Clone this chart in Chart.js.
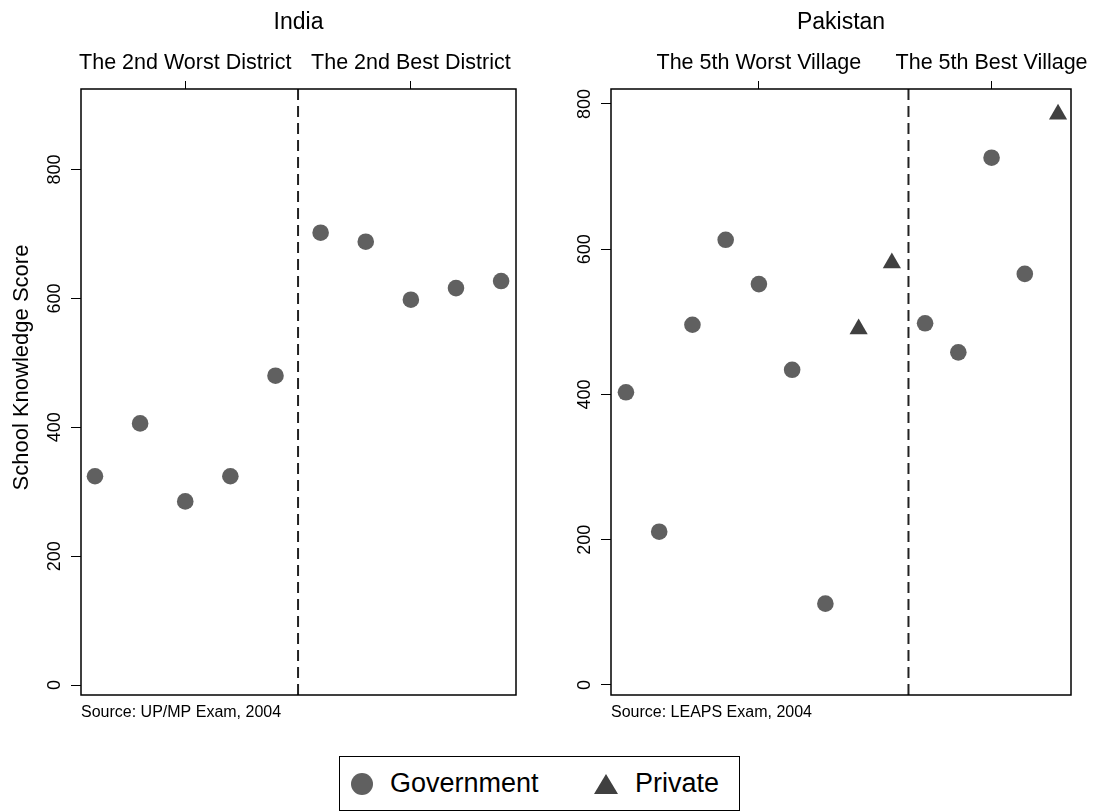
<!DOCTYPE html>
<html>
<head>
<meta charset="utf-8">
<title>School Knowledge Score</title>
<style>
  body { margin: 0; background: #fff; font-family: "Liberation Sans", Arial, sans-serif; }
  #page { position: relative; width: 1095px; height: 812px; overflow: hidden; }
  canvas { position: absolute; top: 0; }
  #india { left: 0; }
  #pakistan { left: 560px; }
  #legend { position: absolute; left: 339px; top: 756px; width: 401px; height: 55px;
            border: 1px solid #000; box-sizing: border-box; }
  #legend span { position: absolute; }
  .dot { left: 11px; top: 16px; width: 22px; height: 22px; border-radius: 50%; background: #606060; }
  .tri { left: 254px; top: 17px; width: 0; height: 0; border-left: 12px solid transparent;
         border-right: 12px solid transparent; border-bottom: 20px solid #404040; }
  .txt { font-size: 27px; color: #000; top: 10px; line-height: 32px; }
</style>
</head>
<body>
<div id="page">
  <canvas id="india" width="560" height="740"></canvas>
  <canvas id="pakistan" width="535" height="740"></canvas>
  <div id="legend">
    <span class="dot"></span><span class="txt" style="left:50px">Government</span>
    <span class="tri"></span><span class="txt" style="left:295px">Private</span>
  </div>
</div>

<script src="https://cdn.jsdelivr.net/npm/chart.js"></script>
<script>
// India - schools ordered within the 2nd worst / 2nd best district
const indiaGovX = [1, 2, 3, 4, 5, 6, 7, 8, 9, 10];
const indiaGovScore = [324, 406, 285, 324, 480, 702, 688, 598, 616, 627];
const indiaTopTicks = [3, 8];
const indiaTopLabels = ['The 2nd Worst District', 'The 2nd Best District'];
const indiaCutoff = 5.5;

// Pakistan - schools ordered within the 5th worst / 5th best village
const pakGovX = [1, 2, 3, 4, 5, 6, 7, 10, 11, 12, 13];
const pakGovScore = [403, 211, 496, 613, 552, 434, 112, 498, 458, 726, 566];
const pakPrivX = [8, 9, 14];
const pakPrivScore = [490, 581, 786];
const pakTopTicks = [5, 12];
const pakTopLabels = ['The 5th Worst Village', 'The 5th Best Village'];
const pakCutoff = 9.5;

const yTicks = [0, 200, 400, 600, 800];

Chart.defaults.font.family = "'Liberation Sans', Arial, sans-serif";
Chart.defaults.color = '#000';

// frame round the plot area + dashed line between the two groups
const framePlugin = {
  id: 'frame',
  beforeDatasetsDraw(chart, args, opts) {
    const a = chart.chartArea, ctx = chart.ctx;
    const px = chart.scales.x.getPixelForValue(opts.cutoff);
    ctx.save();
    ctx.strokeStyle = '#222';
    ctx.lineWidth = 2;
    ctx.setLineDash([11, 6]);
    ctx.beginPath();
    ctx.moveTo(px, a.top);
    ctx.lineTo(px, a.bottom + 3);
    ctx.stroke();
    ctx.restore();
  },
  afterDraw(chart) {
    const a = chart.chartArea, ctx = chart.ctx;
    ctx.save();
    ctx.strokeStyle = '#000';
    ctx.lineWidth = 1.5;
    ctx.strokeRect(a.left, a.top, a.right - a.left, a.bottom - a.top);
    ctx.restore();
  }
};

function points(xs, ys) {
  return xs.map((x, i) => ({ x: x, y: ys[i] }));
}

function makePanel(id, p) {
  var datasets = [{
    label: 'Government',
    data: points(p.govX, p.govY),
    pointStyle: 'circle',
    pointRadius: 8.3,
    backgroundColor: '#606060',
    borderWidth: 0
  }];
  if (p.privX) {
    datasets.push({
      label: 'Private',
      data: points(p.privX, p.privY),
      pointStyle: 'triangle',
      pointRadius: 10.5,
      backgroundColor: '#404040',
      borderWidth: 0
    });
  }

  new Chart(document.getElementById(id), {
    type: 'scatter',
    data: { datasets: datasets },
    options: {
      responsive: false,
      animation: false,
      events: [],
      layout: { padding: { left: 0, top: 0, right: p.padRight, bottom: 0 } },
      plugins: {
        legend: { display: false },
        tooltip: { enabled: false },
        frame: { cutoff: p.cutoff }
      },
      scales: {
        x: {
          type: 'linear', position: 'bottom',
          min: p.xMin, max: p.xMax,
          ticks: { display: false },
          grid: { display: false },
          border: { display: false },
          title: {
            display: true, text: p.source, align: 'start',
            font: { size: 16 }, padding: { top: 0, bottom: 18 }
          },
          afterFit: function(s) { s.height = 45; s.paddingLeft = 0; s.paddingRight = 0; }
        },
        x2: {
          type: 'linear', position: 'top',
          min: p.xMin, max: p.xMax,
          afterBuildTicks: function(s) { s.ticks = p.topTicks.map(v => ({ value: v })); },
          ticks: {
            autoSkip: false, maxRotation: 0, minRotation: 0, padding: 5,
            font: { size: 21.5 },
            callback: function(v) { return p.topLabels[p.topTicks.indexOf(v)]; }
          },
          grid: { display: true, drawOnChartArea: false, tickLength: 8, color: '#000', lineWidth: 1 },
          border: { display: false },
          title: {
            display: true, text: p.title,
            font: { size: 23 }, padding: { top: 9, bottom: 0 }
          },
          afterFit: function(s) { s.height = 89; s.paddingLeft = 0; s.paddingRight = 0; }
        },
        y: {
          type: 'linear', position: 'left',
          min: p.yMin, max: p.yMax,
          afterBuildTicks: function(s) { s.ticks = yTicks.map(v => ({ value: v })); },
          ticks: {
            autoSkip: false, minRotation: 90, maxRotation: 90,
            crossAlign: 'center', padding: 1,
            font: { size: 18 }
          },
          grid: { display: true, drawOnChartArea: false, tickLength: 10, color: '#000', lineWidth: 1 },
          border: { display: false },
          title: {
            display: !!p.yTitle, text: p.yTitle || '',
            font: { size: 22 }, padding: { top: 9, bottom: 0 }
          },
          afterFit: function(s) { s.width = p.yWidth; s.paddingTop = 0; s.paddingBottom = 0; }
        }
      }
    },
    plugins: [framePlugin]
  });
}

makePanel('india', {
  title: 'India',
  source: 'Source: UP/MP Exam, 2004',
  // leading spaces lift the rotated title a little, as in the original
  yTitle: '        School Knowledge Score',
  govX: indiaGovX, govY: indiaGovScore,
  topTicks: indiaTopTicks, topLabels: indiaTopLabels,
  cutoff: indiaCutoff,
  xMin: 0.69, xMax: 10.33,
  yMin: -15.5, yMax: 925,
  yWidth: 81, padRight: 44
});

makePanel('pakistan', {
  title: 'Pakistan',
  source: 'Source: LEAPS Exam, 2004',
  govX: pakGovX, govY: pakGovScore,
  privX: pakPrivX, privY: pakPrivScore,
  topTicks: pakTopTicks, topLabels: pakTopLabels,
  cutoff: pakCutoff,
  xMin: 0.55, xMax: 14.39,
  yMin: -13.8, yMax: 820.6,
  yWidth: 51, padRight: 24
});
</script>
</body>
</html>
